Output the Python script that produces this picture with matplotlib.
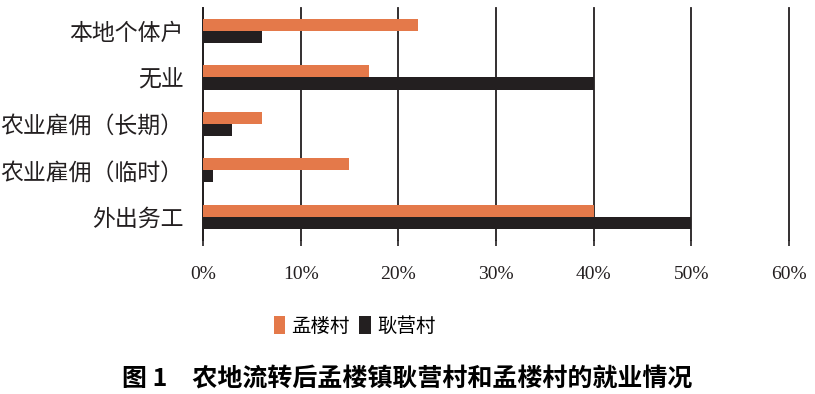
import matplotlib
matplotlib.use("Agg")
import matplotlib.pyplot as plt
import numpy as np

categories = ["本地个体户", "无业", "农业雇佣（长期）", "农业雇佣（临时）", "外出务工"]
menglou = [22, 17, 6, 15, 40]
gengying = [6, 40, 3, 1, 50]
series_names = ["孟楼村", "耿营村"]
xticks = [0, 10, 20, 30, 40, 50, 60]
xticklabels = ["0%", "10%", "20%", "30%", "40%", "50%", "60%"]
caption = "图 1　农地流转后孟楼镇耿营村和孟楼村的就业情况"

plt.rcParams['font.family'] = ['Noto Sans CJK SC', 'DejaVu Sans']

fig = plt.figure(figsize=(8.15, 3.94), dpi=100)
ax = fig.add_axes([0.249, 0.391, 0.719, 0.589])

orange = "#E4794A"
black = "#231F20"
y = np.arange(len(categories))
h = 0.26
ax.barh(y - h/2, menglou, height=h, color=orange, label=series_names[0], zorder=3)
ax.barh(y + h/2, gengying, height=h, color=black, label=series_names[1], zorder=3)

ax.set_ylim(4.5, -0.5)
ax.set_xlim(0, 60)
ax.set_yticks(y)
ax.set_yticklabels(categories, fontsize=16.5, color="#231F20")
ax.tick_params(axis='y', length=0, pad=14)
ax.set_xticks(xticks)
ax.set_xticklabels(xticklabels, fontsize=14, family=['Liberation Serif'], color="#231F20")
ax.tick_params(axis='x', length=4, width=1.2, direction='out', pad=15, color="#231F20")
ax.grid(axis='x', color="#231F20", linewidth=1.3, zorder=0)
for gl in ax.get_xgridlines():
    gl.set_clip_on(False)
for s in ['top', 'right', 'bottom']:
    ax.spines[s].set_visible(False)
ax.spines['left'].set_color("#231F20")
ax.spines['left'].set_linewidth(1.3)

fig.legend(loc='center', bbox_to_anchor=(0.435, 0.172), ncol=2, frameon=False,
           fontsize=14, handlelength=0.6, handleheight=1.0, handletextpad=0.3,
           columnspacing=0.5)

fig.text(0.5, 0.04, caption, ha='center', va='center', fontsize=18, fontweight='bold')

fig.savefig("out.png", dpi=100)
